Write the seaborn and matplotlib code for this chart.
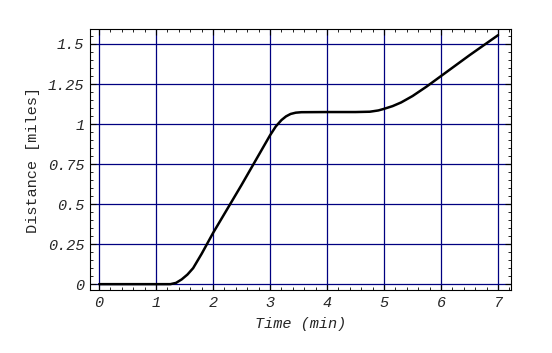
import matplotlib
matplotlib.use("Agg")
import matplotlib.pyplot as plt
import seaborn as sns
import pandas as pd
from matplotlib.ticker import MultipleLocator, FixedLocator

time_min = [0.0, 1.0, 1.25, 1.35, 1.45, 1.55, 1.65, 1.8, 2.0, 2.5, 3.0, 3.1, 3.2, 3.28, 3.36, 3.45, 3.55,
            4.0, 4.5, 4.75, 4.9, 5.0, 5.15, 5.3, 5.5, 5.75, 6.0, 6.5, 7.0]
distance_miles = [0.0, 0.0, 0.0, 0.008, 0.03, 0.06, 0.1, 0.19, 0.32, 0.62, 0.93, 0.985, 1.025, 1.048,
                  1.063, 1.071, 1.074, 1.075, 1.075, 1.077, 1.085, 1.095, 1.112, 1.135, 1.175,
                  1.235, 1.30, 1.43, 1.555]
x_ticks = [0, 1, 2, 3, 4, 5, 6, 7]
y_ticks = [0, 0.25, 0.5, 0.75, 1, 1.25, 1.5]
y_tick_labels = ["0", "0.25", "0.5", "0.75", "1", "1.25", "1.5"]

sns.set_theme(style="white")
plt.rcParams['font.family'] = ['Liberation Mono', 'DejaVu Sans']

df = pd.DataFrame({"Time": time_min, "Distance": distance_miles})

fig = plt.figure(figsize=(5.52, 3.53), dpi=100)
ax = fig.add_axes([0.163, 0.178, 0.763, 0.740])
sns.lineplot(data=df, x="Time", y="Distance", ax=ax, color="black", linewidth=1.8, zorder=3)

ax.set_xlim(-0.16, 7.23)
ax.set_ylim(-0.0375, 1.594)
ax.xaxis.set_major_locator(FixedLocator(x_ticks))
ax.yaxis.set_major_locator(FixedLocator(y_ticks))
ax.set_yticklabels(y_tick_labels)
ax.set_xticklabels([str(t) for t in x_ticks])
ax.xaxis.set_minor_locator(MultipleLocator(0.2))
ax.yaxis.set_minor_locator(MultipleLocator(0.05))
ax.grid(True, which="major", color="#000080", linewidth=0.9)
ax.tick_params(which="both", direction="in", top=True, right=True, bottom=True, left=True,
               color="black")
ax.tick_params(which="major", length=4, width=0.8, labelsize=11, pad=4)
ax.tick_params(which="minor", length=2, width=0.6)
for lbl in ax.get_xticklabels() + ax.get_yticklabels():
    lbl.set_fontstyle("italic")
for s in ax.spines.values():
    s.set_color("black")
    s.set_linewidth(0.8)
ax.set_xlabel("Time (min)", fontsize=11, fontstyle="italic", labelpad=5)
ax.set_ylabel("Distance [miles]", fontsize=11, labelpad=6)

fig.savefig("out.png", dpi=100, facecolor="white")
